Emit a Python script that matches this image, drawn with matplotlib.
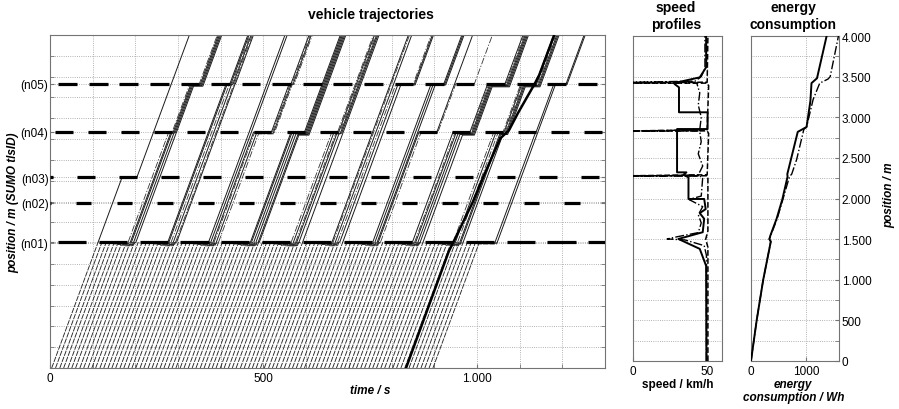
import matplotlib
matplotlib.use('Agg')
import matplotlib.pyplot as plt
from matplotlib.ticker import FuncFormatter, MultipleLocator, FixedLocator
import numpy as np

plt.rcParams['font.family'] = ['Liberation Sans', 'DejaVu Sans']
plt.rcParams['font.size'] = 8.5

# traffic lights (position in m) and their signal plans (s)
sig_names = ['(n01)', '(n02)', '(n03)', '(n04)', '(n05)']
sig_pos = [1513, 1982, 2292, 2835, 3415]
sig_cycle = [95.5, 95.3, 98.3, 77.5, 71.6]
sig_red_start = [19.0, 61.2, 63.3, 11.7, 19.4]
sig_red_len = [66.0, 36.0, 42.0, 42.0, 44.0]

# departure times of the background vehicles (s)
depart = [4, 13, 23, 32, 42, 51, 60, 70, 79, 89, 98, 107, 117, 126, 136, 145,
          154, 164, 173, 183, 192, 201, 211, 220, 230, 239, 248, 258, 267, 277,
          286, 295, 305, 314, 324, 333, 342, 352, 361, 371, 380, 389, 399, 408,
          418, 427, 436, 446, 455, 465, 474, 483, 493, 502, 512, 521, 530, 540,
          549, 559, 568, 577, 587, 596, 606, 615, 624, 634, 643, 653, 662, 671,
          681, 690, 700, 709, 718, 728, 737, 747, 756, 765, 775, 784, 794, 803,
          812, 822, 831, 841, 850, 859, 869, 878, 888, 897]
# which vehicles drive on beyond (n01) (1) or leave the road there (0)
through = [1, 0, 1, 0, 1, 1, 0, 1, 0, 1, 0, 1, 1, 0, 1, 0, 1, 0, 1, 1, 0, 1, 0,
           1, 0, 1, 1, 0, 1, 0, 1, 0, 1, 1, 0, 1, 0, 1, 0, 1, 1, 0, 1, 0, 1, 0,
           1, 1, 0, 1, 0, 1, 0, 1, 1, 0, 1, 0, 1, 0, 1, 1, 0, 1, 0, 1, 0, 1, 1,
           0, 1, 0, 1, 0, 1, 1, 0, 1, 0, 1, 0, 1, 1, 0, 1, 0, 1, 0, 1, 1, 0, 1,
           0, 1, 0, 1]
v_free = 13.9      # m/s (50 km/h)
headway = 2.6      # s, queue discharge
veh_gap = 7.5      # m per queued vehicle
road_end = 4000

# highlighted vehicle (bold)
ego_t = [834, 934, 945, 990, 1015, 1055, 1075, 1096, 1135, 1146, 1181]
ego_x = [0, 1400, 1513, 1990, 2298, 2760, 2855, 3061, 3411, 3520, 4000]

# speed profiles (position m, speed km/h)
sp_pos_solid = [0, 1170, 1380, 1502, 1585, 1750, 1820, 1870, 1994, 1994, 2261,
                2290, 2322, 2322, 2855, 2855, 3061, 3061, 3368, 3409, 3430,
                3491, 3615, 4000]
sp_solid = [49.5, 49.3, 45, 30.6, 47, 48, 45, 49, 48, 37.4, 37.4, 34, 36, 29.7,
            29.7, 50.3, 50.3, 31, 31, 28, 30, 45, 49.3, 49.3]
sp_pos_dash = [0, 1400, 1500, 1600, 2250, 2280, 2280, 2292, 2800, 2832, 2832,
               2845, 3390, 3420, 3420, 3432, 4000]
sp_dash = [50.5, 50.5, 49, 50.5, 50.5, 50, 0, 50, 51, 50, 0, 50, 51, 50, 0, 50,
           50.5]
sp_pos_dd = [0, 1300, 1420, 1490, 1502, 1530, 1580, 1700, 1800, 1900, 1985,
             2000, 2030, 2260, 2275, 2275, 2290, 2400, 2550, 2700, 2820, 2830,
             2830, 2845, 3000, 3150, 3300, 3420, 3430, 3430, 3445, 3500, 3600,
             4000]
sp_dd = [49.5, 49.5, 48, 35, 23, 30, 44, 46, 44, 47, 38, 40, 46, 47, 45, 0, 44,
         47, 44, 46, 45, 44, 0, 45, 46, 44, 45, 43, 40, 0, 42, 46, 48.5, 48.5]

# energy consumption (position m, energy Wh)
en_pos_solid = [0, 500, 1000, 1470, 1500, 1540, 1750, 1990, 2270, 2300, 2820,
                2850, 2880, 3200, 3420, 3450, 3480, 4000]
en_solid = [0, 103, 222, 360, 335, 350, 465, 570, 665, 660, 850, 930, 1010,
            1080, 1100, 1150, 1200, 1375]
en_pos_dd = [0, 500, 1000, 1470, 1500, 1540, 1750, 1990, 2270, 2300, 2480, 2820,
             2850, 2880, 3220, 3420, 3470, 3500, 4000]
en_dd = [0, 103, 222, 360, 330, 355, 475, 580, 700, 740, 830, 950, 960, 1010,
         1130, 1250, 1400, 1440, 1590]


def red_phase(j, t):
    ph = (t - sig_red_start[j]) % sig_cycle[j]
    if ph < sig_red_len[j]:
        return t - ph + sig_red_len[j]
    return None


# simple queue model for the background traffic
passes = [[] for _ in sig_pos]
trajs = []
for t0, thr in zip(depart, through):
    ts, xs = [t0], [0.0]
    t, x = float(t0), 0.0
    split = None
    for j, sp in enumerate(sig_pos):
        t_arr = t + (sp - x) / v_free
        t_go = t_arr
        if passes[j]:
            t_go = max(t_go, passes[j][-1] + headway)
        for _ in range(5):
            r = red_phase(j, t_go)
            if r is None:
                break
            t_go = r
        if t_go > t_arr + 0.05:
            q = sum(1 for p in passes[j] if p > t_arr)
            x_stop = sp - veh_gap * q
            t_stop = t + (x_stop - x) / v_free
            t_leave = max(t_stop, t_go - (sp - x_stop) / v_free)
            ts += [t_stop, t_leave]
            xs += [x_stop, x_stop]
        ts.append(t_go)
        xs.append(sp)
        passes[j].append(t_go)
        t, x = t_go, sp
        if j == 0:
            split = len(ts)
            if not thr:
                break
    else:
        ts.append(t + (road_end - x) / v_free)
        xs.append(road_end)
    trajs.append((ts, xs, split))


def thousands(v, pos):
    return f"{int(round(v)):,}".replace(",", ".")


def style_axes(ax):
    for s in ax.spines.values():
        s.set_color('0.45')
        s.set_linewidth(0.8)
    ax.tick_params(which='both', direction='in', color='0.45', length=3,
                   labelsize=8.5, pad=3)
    ax.tick_params(which='minor', length=3)
    ax.grid(True, which='both', ls=':', color='0.6', lw=0.6)
    ax.set_axisbelow(True)


fig = plt.figure(figsize=(8.99, 4.10), dpi=100)

# vehicle trajectories
ax1 = fig.add_axes([50/899, 41/410, 555/899, 333/410])
style_axes(ax1)
for i, (ts, xs, n) in enumerate(trajs):
    # lower part: dense dashed lines
    ax1.plot(ts[:n], xs[:n], color='0.15', lw=0.65, ls=(0, (6, 1.2)),
             zorder=2)
    if len(ts) <= n:
        continue
    # upper part: thin grey lines, some dash-dotted
    if i % 4 == 2:
        ax1.plot(ts[n - 1:], xs[n - 1:], color='0.2', lw=0.6,
                 ls=(0, (8, 2, 1.5, 2)), zorder=2)
    else:
        ax1.plot(ts[n - 1:], xs[n - 1:], color='0.1', lw=0.7, zorder=2)
for j, sp in enumerate(sig_pos):
    k = -2
    segs = []
    while True:
        s = sig_red_start[j] + k * sig_cycle[j]
        if s > 1300:
            break
        e = s + sig_red_len[j]
        if e > 0:
            segs.append((max(s, 0), min(e, 1300)))
        k += 1
    ax1.hlines([sp] * len(segs), [a for a, b in segs], [b for a, b in segs],
               color='k', lw=2.3, zorder=3)
ax1.plot(ego_t, ego_x, color='k', lw=1.8, zorder=4)
ax1.set_xlim(0, 1300)
ax1.set_ylim(0, 4000)
ax1.xaxis.set_major_locator(FixedLocator([0, 500, 1000]))
ax1.xaxis.set_minor_locator(MultipleLocator(100))
ax1.xaxis.set_major_formatter(FuncFormatter(thousands))
ax1.yaxis.set_major_locator(FixedLocator(sig_pos))
ax1.set_yticklabels(sig_names)
ax1.yaxis.set_minor_locator(MultipleLocator(250))
ax1.tick_params(axis='y', which='both', right=True, pad=1)
ax1.set_xlabel('time / s', fontweight='bold', fontstyle='italic')
ax1.xaxis.set_label_coords((370 - 50) / 555, -16 / 333)
ax1.set_ylabel('position / m (SUMO tlsID)', fontweight='bold',
               fontstyle='italic')
ax1.yaxis.set_label_coords(-31 / 555, 0.5)

# speed profiles
ax2 = fig.add_axes([633/899, 48/410, 89/899, 325/410])
style_axes(ax2)
ax2.plot(sp_solid, sp_pos_solid, color='k', lw=1.4, zorder=4)
ax2.plot(sp_dash, sp_pos_dash, color='k', lw=1.1, ls='--', zorder=3)
ax2.plot(sp_dd, sp_pos_dd, color='k', lw=1.0, ls='-.', zorder=3)
ax2.set_xlim(0, 60)
ax2.set_ylim(0, 4000)
ax2.xaxis.set_major_locator(FixedLocator([0, 50]))
ax2.yaxis.set_major_locator(MultipleLocator(250))
ax2.set_yticklabels([])
ax2.tick_params(axis='y', which='both', length=0)
ax2.set_xlabel('speed / km/h', fontweight='bold')
ax2.xaxis.set_label_coords(0.5, -17 / 325)

# energy consumption
ax3 = fig.add_axes([751/899, 48/410, 88/899, 325/410])
style_axes(ax3)
ax3.plot(en_solid, en_pos_solid, color='k', lw=1.4, zorder=4)
ax3.plot(en_dd, en_pos_dd, color='k', lw=1.0, ls='-.', zorder=3)
ax3.set_xlim(0, 1600)
ax3.set_ylim(0, 4000)
ax3.xaxis.set_major_locator(FixedLocator([0, 1000]))
ax3.yaxis.set_major_locator(MultipleLocator(500))
ax3.yaxis.set_minor_locator(MultipleLocator(250))
ax3.yaxis.set_major_formatter(FuncFormatter(thousands))
ax3.yaxis.tick_right()
ax3.tick_params(axis='y', which='both', length=3, pad=2)
ax3.set_xlabel('energy\nconsumption / Wh', fontweight='bold',
               fontstyle='italic', linespacing=1.15)
ax3.xaxis.set_label_coords(0.48, -17 / 325)
ax3.xaxis.label.set_va('top')
ax3.yaxis.set_label_position('right')
ax3.set_ylabel('position / m', fontweight='bold', fontstyle='italic')
ax3.yaxis.set_label_coords((883 - 751) / 88, (362 - 195) / 325)

fig.text(371/899, 1 - 15/410, 'vehicle trajectories', ha='center',
         va='center', fontsize=10, fontweight='bold')
fig.text(676/899, 1 - 16.5/410, 'speed\nprofiles', ha='center', va='center',
         fontsize=10, fontweight='bold', linespacing=1.2)
fig.text(793/899, 1 - 16.5/410, 'energy\nconsumption', ha='center',
         va='center', fontsize=10, fontweight='bold', linespacing=1.2)

fig.savefig('out.png', dpi=100)
